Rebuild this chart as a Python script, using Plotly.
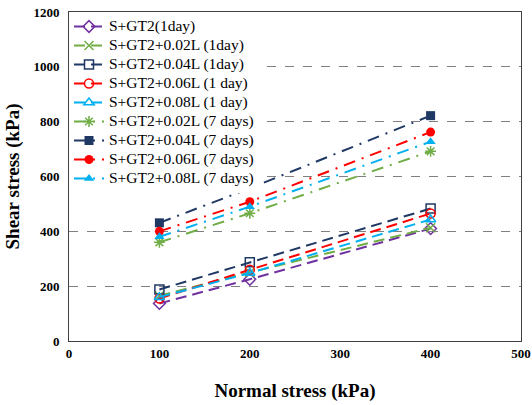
import plotly.graph_objects as go

normal_stress = [100, 200, 400]

names = [
    "S+GT2(1day)",
    "S+GT2+0.02L (1day)",
    "S+GT2+0.04L (1day)",
    "S+GT2+0.06L (1 day)",
    "S+GT2+0.08L (1 day)",
    "S+GT2+0.02L (7 days)",
    "S+GT2+0.04L (7 days)",
    "S+GT2+0.06L (7 days)",
    "S+GT2+0.08L (7 days)",
]

gt2_1d = [137, 225, 410]
l002_1d = [165, 250, 413]
l004_1d = [188, 287, 483]
l006_1d = [155, 260, 465]
l008_1d = [160, 248, 443]
l002_7d = [360, 466, 692]
l004_7d = [431, 557, 822]
l006_7d = [400, 508, 762]
l008_7d = [380, 490, 727]

series = [gt2_1d, l002_1d, l004_1d, l006_1d, l008_1d,
          l002_7d, l004_7d, l006_7d, l008_7d]

colors = ["#7030A0", "#70AD47", "#1F3864", "#FF0000", "#00B0F0",
          "#70AD47", "#1F3864", "#FF0000", "#00B0F0"]
symbols = ["diamond-open", "x-thin-open", "square-open", "circle-open", "triangle-up-open",
           "asterisk-open", "square", "circle", "triangle-up"]
dashes = ["11px,6px"] * 5 + ["12px,7px,2px,7px"] * 4

fig = go.Figure()
for name, ys, c, s, d in zip(names, series, colors, symbols, dashes):
    fig.add_trace(go.Scatter(
        x=normal_stress, y=ys,
        name='<span style="font-size:15.5px">' + name + '</span>',
        mode="lines+markers",
        line=dict(color=c, width=2, dash=d),
        marker=dict(symbol=s, size=9, color=c,
                    line=dict(color=c, width=1.5 if "open" in s else 0)),
    ))

fig.update_layout(
    width=532, height=405,
    margin=dict(l=69, r=11, t=12, b=64, autoexpand=False),
    paper_bgcolor="white", plot_bgcolor="white",
    showlegend=True,
    legend=dict(x=0.0, y=1.0, xanchor="left", yanchor="top",
                bgcolor="white", borderwidth=0,
                font=dict(family="Liberation Serif", size=12.3, color="black"),
                tracegroupgap=0, itemwidth=30),
    xaxis=dict(range=[0, 500], dtick=100, showgrid=False, zeroline=False,
               automargin=False,
               showline=True, linecolor="#404040", linewidth=1, mirror=True,
               tickfont=dict(family="Liberation Serif", size=13, color="black", weight="bold"),
               title=dict(text="<b>Normal stress (kPa)</b>", standoff=24,
                          font=dict(family="Liberation Serif", size=19, color="black"))),
    yaxis=dict(range=[0, 1200], dtick=200, showgrid=True, gridcolor="#808080",
               griddash="dash", gridwidth=1, zeroline=False,
               automargin=False,
               showline=True, linecolor="#404040", linewidth=1, mirror=True,
               tickfont=dict(family="Liberation Serif", size=13, color="black", weight="bold"),
               ticklabelstandoff=6,
               title=dict(text="<b>Shear stress (kPa)</b>", standoff=8,
                          font=dict(family="Liberation Serif", size=19, color="black"))),
)

fig.write_html("out.html", config={"displayModeBar": False},
               post_script="document.body.style.margin='0';")
